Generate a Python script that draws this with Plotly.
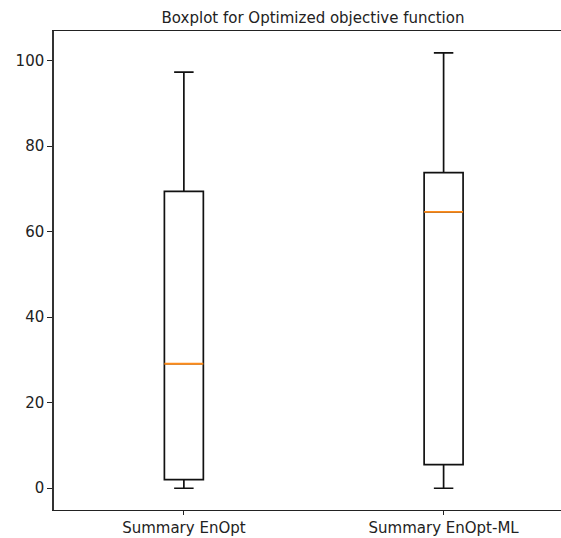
import plotly.graph_objects as go

# Summary statistics of the optimized objective function for each method
categories = ["Summary EnOpt", "Summary EnOpt-ML"]
positions = [1, 2]
lower_whisker = [0.0, 0.0]
q1 = [2.0, 5.5]
median = [29.1, 64.6]
q3 = [69.4, 73.8]
upper_whisker = [97.3, 101.8]
y_ticks = [0, 20, 40, 60, 80, 100]

box_width = 0.15
font = dict(family="DejaVu Sans", size=15, color="#222222")

fig = go.Figure()

for i, name in enumerate(categories):
    fig.add_trace(go.Box(
        x=[positions[i]],
        q1=[q1[i]], median=[median[i]], q3=[q3[i]],
        lowerfence=[lower_whisker[i]], upperfence=[upper_whisker[i]],
        width=box_width,
        whiskerwidth=0.5,
        fillcolor="rgba(255,255,255,0)",
        line=dict(color="#111111", width=1.7),
        boxpoints=False,
        hoverinfo="skip",
        showlegend=False,
        name=name,
    ))
    # orange median line drawn over the box
    fig.add_trace(go.Scatter(
        x=[positions[i] - box_width / 2, positions[i] + box_width / 2],
        y=[median[i], median[i]],
        mode="lines",
        line=dict(color="#ff8c1a", width=1.8),
        hoverinfo="skip",
        showlegend=False,
    ))

fig.update_layout(
    width=561, height=538,
    margin=dict(l=54, r=0, t=31, b=28),
    paper_bgcolor="white",
    plot_bgcolor="white",
    font=font,
    title=dict(
        text="Boxplot for Optimized objective function",
        x=0.558, xref="container", xanchor="center",
        y=1 - 18 / 538, yref="container", yanchor="middle",
        font=dict(family="DejaVu Sans", size=15, color="#222222"),
    ),
    xaxis=dict(
        range=[0.5, 2.452],
        tickvals=positions,
        ticktext=categories,
        showgrid=False, zeroline=False,
        showline=True, linecolor="#222222", linewidth=1.2,
        mirror=True,
        ticks="outside", ticklen=4, tickcolor="#222222",
    ),
    yaxis=dict(
        range=[-5.09, 106.9],
        tickvals=y_ticks,
        showgrid=False, zeroline=False,
        showline=True, linecolor="#333333", linewidth=1.5,
        ticks="outside", ticklen=5, tickcolor="#222222",
    ),
)

fig.write_html("out.html")
